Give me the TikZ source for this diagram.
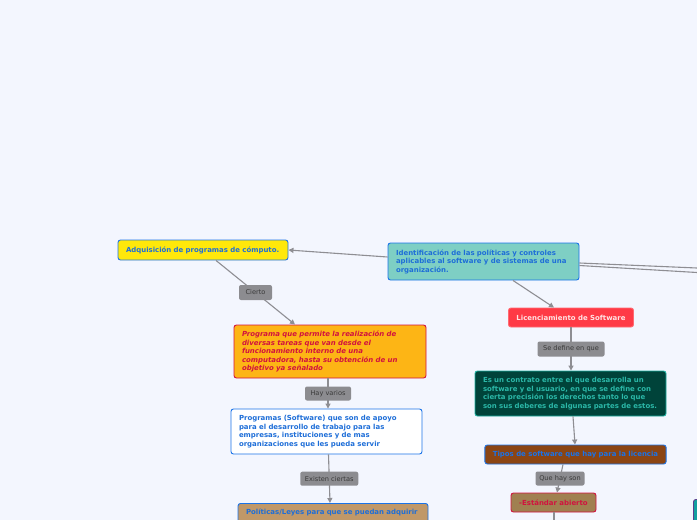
\documentclass[tikz,border=0pt]{standalone}
\usepackage{fontspec}
\setmainfont{DejaVu Sans}
\usetikzlibrary{arrows.meta}
\definecolor{bg}{HTML}{F3F6FE}
\definecolor{conn}{HTML}{8E8E93}
\definecolor{lblfill}{HTML}{8C8C90}
\definecolor{lbltext}{HTML}{3A3A3A}
\definecolor{mblue}{HTML}{1A73E8}
\definecolor{tblue}{HTML}{1E6ED8}
\definecolor{myellow}{HTML}{FFE80A}
\definecolor{mteal}{HTML}{7ECFC4}
\definecolor{morange}{HTML}{FDB515}
\definecolor{mred}{HTML}{D1123F}
\definecolor{licred}{HTML}{FF3A46}
\definecolor{licborder}{HTML}{FF6A72}
\definecolor{lictext}{HTML}{FFE4E4}
\definecolor{dgreen}{HTML}{00433A}
\definecolor{gborder}{HTML}{1CB0A0}
\definecolor{gtext}{HTML}{2BB8A8}
\definecolor{mbrown}{HTML}{8B4513}
\definecolor{estfill}{HTML}{A08050}
\definecolor{mtan}{HTML}{C09868}
\definecolor{rteal}{HTML}{13A0A0}
\definecolor{rborder}{HTML}{5B3F8C}
\tikzset{
  box/.style={draw, rounded corners=2.5pt, line width=0.9pt, inner xsep=8pt, inner ysep=1.5pt,
    align=left, font=\fontsize{6.95}{8.5}\selectfont\bfseries},
  lbl/.style={fill=lblfill, rounded corners=2pt, inner sep=0pt, text=lbltext,
    font=\fontsize{6.6}{7.5}\selectfont},
  conn/.style={draw=conn, line width=1.1pt},
  arr/.style={conn, -{Triangle[length=5pt,width=5pt]}},
}
\begin{document}
\begin{tikzpicture}[x=1pt, y=-1pt]
\fill[bg] (0,0) rectangle (697,520);
\useasboundingbox (0,0) rectangle (697,520);

% nodes
\node[box, fill=mteal, draw=mblue, text=tblue, minimum width=191pt, minimum height=37pt, text width=175pt]
  (main) at (483.5,261.5) {Identificación de las políticas y controles\\aplicables al software y de sistemas de una\\organización.};
\node[box, fill=myellow, draw=mblue, text=tblue, minimum width=170pt, minimum height=20pt, text width=154pt]
  (adq) at (203,250) {Adquisición de programas de cómputo.};
\node[box, fill=morange, draw=mred, text=mred, minimum width=192pt, minimum height=53pt, text width=176pt,
  font=\fontsize{6.95}{8.5}\selectfont\bfseries\itshape]
  (prog) at (330,351.5) {Programa que permite la realización de\\diversas tareas que van desde el\\funcionamiento interno de una\\computadora, hasta su obtención de un\\objetivo ya señalado};
\node[box, fill=white, draw=mblue, text=tblue, minimum width=191pt, minimum height=45pt, text width=175pt]
  (soft) at (326.5,431.5) {Programas (Software) que son de apoyo\\para el desarrollo de trabajo para las\\empresas, instituciones y de mas\\organizaciones que les pueda servir};
\node[box, fill=mtan, draw=mblue, text=tblue, minimum width=190pt, minimum height=26pt, text width=174pt, anchor=north]
  (pol) at (333,503) {Políticas/Leyes para que se puedan adquirir\\\phantom{x}};
\node[box, fill=licred, draw=licborder, text=lictext, minimum width=124pt, minimum height=19pt, align=center]
  (lic) at (571,317.5) {Licenciamiento de Software};
\node[box, fill=dgreen, draw=gborder, text=gtext, minimum width=191pt, minimum height=45pt, text width=175pt]
  (contr) at (570.5,393.5) {Es un contrato entre el que desarrolla un\\software y el usuario, en que se define con\\cierta precisión los derechos tanto lo que\\son sus deberes de algunas partes de estos.};
\node[box, fill=mbrown, draw=mblue, text=mblue, minimum width=181pt, minimum height=19pt, align=center]
  (tipos) at (575.5,454.5) {Tipos de software que hay para la licencia};
\node[box, fill=estfill, draw=mred, text=mred, minimum width=85pt, minimum height=19pt, align=center]
  (est) at (553.5,502.5) {-Estándar abierto};
\node[box, fill=rteal, draw=rborder, minimum width=30pt, minimum height=40pt, anchor=north west]
  (right) at (693,499) {};
\coordinate (offA) at (697,268);
\coordinate (offB) at (697,272.5);
\coordinate (offC) at (554,520);

% connectors
\draw[arr] (main.west |- 0,257) -- (adq.east);
\draw[arr] ([xshift=13pt]adq.south) -- node[lbl, minimum width=33pt, minimum height=15pt] (l1) {Cierto} ([xshift=-35pt]prog.north);
\draw[arr] ([xshift=-2pt]prog.south) -- node[lbl, minimum width=46pt, minimum height=14pt] (l2) {Hay varios} ([xshift=1.5pt]soft.north);
\draw[arr] ([xshift=2pt]soft.south) -- node[lbl, minimum width=58pt, minimum height=14pt] (l3) {Existen ciertas} ([xshift=-3pt]pol.north);
\draw[arr] ([xshift=29.5pt]main.south) -- ([xshift=-17pt]lic.north);
\draw[arr] (lic.south) -- node[lbl, minimum width=67pt, minimum height=15pt] (l4) {Se define en que} ([xshift=0.5pt]contr.north);
\draw[arr] ([xshift=2.5pt]contr.south) -- ([xshift=-0.5pt]tipos.north);
\draw[arr] ([xshift=-12.5pt]tipos.south) -- node[lbl, minimum width=49pt, minimum height=14pt] (l5) {Que hay son} ([xshift=3.5pt]est.north);
\draw[conn] ([xshift=0.5pt]est.south) -- (offC);
\draw[conn] (main.east |- 0,263) -- (offA);
\draw[conn] (main.east |- 0,265.5) -- (offB);
\end{tikzpicture}
\end{document}
